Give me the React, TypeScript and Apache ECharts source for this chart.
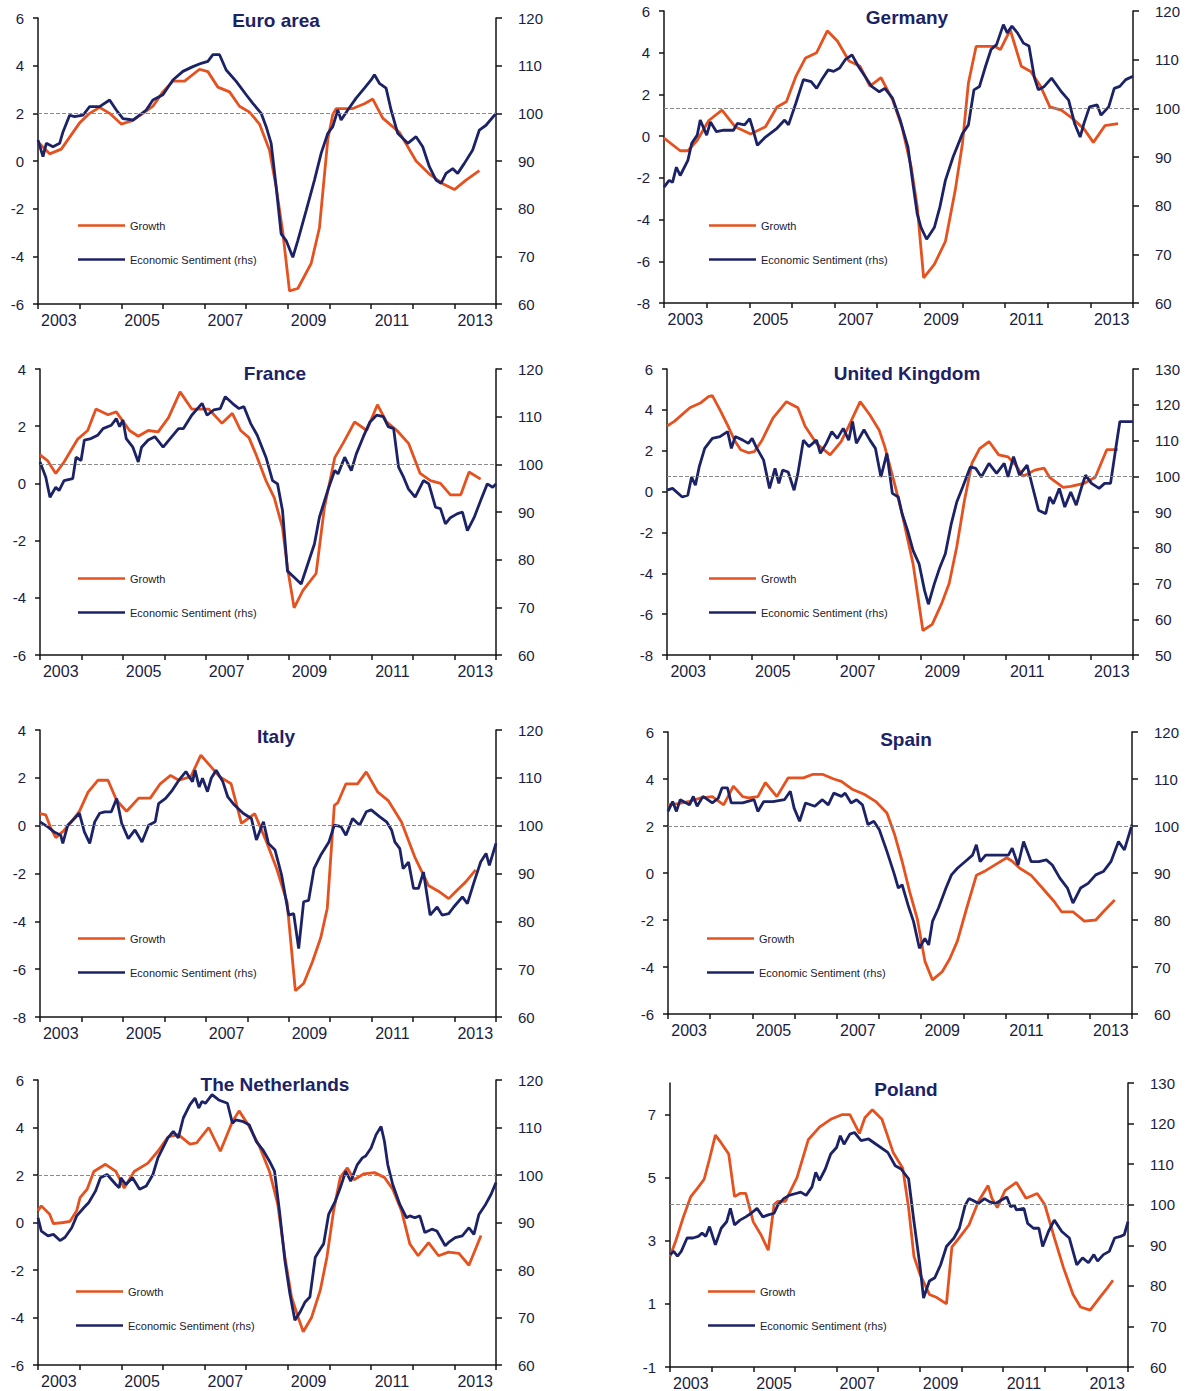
import React, { useEffect, useRef } from "react";
import * as echarts from "echarts";

const YEARS = ["2003", "2004", "2005", "2006", "2007", "2008", "2009", "2010", "2011", "2012", "2013"];

const euroGrowth = [
  [2003.0, 0.8], [2003.28, 0.3], [2003.56, 0.5], [2004.0, 1.6], [2004.24, 2.0], [2004.48, 2.25], [2004.72, 2.0],
  [2005.0, 1.55], [2005.28, 1.7], [2005.52, 2.0], [2005.76, 2.3], [2006.0, 2.9], [2006.24, 3.35], [2006.52, 3.35],
  [2006.88, 3.85], [2007.08, 3.75], [2007.32, 3.1], [2007.6, 2.9], [2007.84, 2.3], [2008.08, 2.05], [2008.32, 1.55],
  [2008.56, 0.45], [2008.72, -1.1], [2008.88, -3.0], [2009.04, -5.45], [2009.24, -5.35], [2009.56, -4.3], [2009.76, -2.8],
  [2009.96, 0.9], [2010.08, 1.95], [2010.16, 2.2], [2010.56, 2.2], [2010.84, 2.4], [2011.04, 2.6], [2011.28, 1.8],
  [2011.68, 1.2], [2012.08, 0.0], [2012.4, -0.55], [2012.72, -0.95], [2013.0, -1.2], [2013.28, -0.8], [2013.6, -0.4],
];
const euroSentiment = [
  [2003.0, 94.4], [2003.12, 90.9], [2003.2, 93.7], [2003.36, 93.0], [2003.52, 93.7], [2003.6, 96.1], [2003.76, 99.6],
  [2003.88, 99.3], [2004.08, 99.6], [2004.24, 101.4], [2004.48, 101.4], [2004.72, 102.8], [2004.88, 100.7], [2005.04, 98.9],
  [2005.28, 98.6], [2005.6, 100.7], [2005.76, 102.8], [2006.0, 103.9], [2006.24, 107.0], [2006.48, 108.8], [2006.72, 109.8],
  [2006.92, 110.5], [2007.08, 110.9], [2007.2, 112.3], [2007.36, 112.3], [2007.52, 109.1], [2007.76, 106.7], [2008.0, 103.9],
  [2008.16, 102.1], [2008.36, 100.0], [2008.48, 97.2], [2008.6, 93.7], [2008.72, 84.6], [2008.84, 74.7], [2008.96, 73.3],
  [2009.12, 69.8], [2009.24, 73.3], [2009.44, 79.6], [2009.64, 86.0], [2009.8, 91.6], [2009.96, 95.8], [2010.08, 97.2],
  [2010.2, 100.7], [2010.28, 98.6], [2010.44, 100.7], [2010.64, 103.2], [2010.84, 105.3], [2011.0, 107.0], [2011.08, 108.1],
  [2011.2, 106.3], [2011.36, 105.3], [2011.48, 100.7], [2011.64, 95.8], [2011.88, 93.7], [2012.08, 95.1], [2012.24, 93.0],
  [2012.4, 88.8], [2012.56, 86.0], [2012.68, 85.3], [2012.8, 87.4], [2012.96, 88.4], [2013.08, 87.4], [2013.24, 89.5],
  [2013.44, 92.3], [2013.6, 96.5], [2013.76, 97.5], [2014.0, 100.0],
];

const germanyGrowth = [
  [2003.0, -0.1], [2003.38, -0.7], [2003.56, -0.7], [2003.78, -0.2], [2004.05, 0.75], [2004.36, 1.25], [2004.67, 0.45],
  [2005.03, 0.1], [2005.38, 0.45], [2005.65, 1.4], [2005.87, 1.65], [2006.09, 2.85], [2006.32, 3.75], [2006.58, 4.0],
  [2006.83, 5.05], [2007.07, 4.55], [2007.34, 3.6], [2007.6, 3.35], [2007.83, 2.4], [2008.09, 2.8], [2008.36, 1.75],
  [2008.58, 0.45], [2008.8, -1.5], [2008.94, -3.4], [2009.09, -6.8], [2009.34, -6.15], [2009.6, -5.05], [2009.83, -2.6],
  [2010.0, -0.35], [2010.14, 2.55], [2010.32, 4.3], [2010.76, 4.3], [2010.89, 4.15], [2011.12, 5.1], [2011.38, 3.35],
  [2011.6, 3.1], [2011.83, 2.4], [2012.05, 1.4], [2012.32, 1.25], [2012.58, 0.85], [2012.85, 0.35], [2013.07, -0.3],
  [2013.34, 0.5], [2013.65, 0.6],
];
const germanySentiment = [
  [2003.0, 83.8], [2003.12, 85.2], [2003.2, 84.8], [2003.29, 87.9], [2003.38, 86.2], [2003.56, 89.3], [2003.65, 92.8],
  [2003.78, 94.5], [2003.85, 97.6], [2004.0, 94.5], [2004.09, 97.2], [2004.23, 95.2], [2004.4, 95.5], [2004.63, 95.5],
  [2004.72, 96.9], [2004.89, 96.6], [2005.01, 97.9], [2005.07, 96.2], [2005.19, 92.4], [2005.38, 94.1], [2005.65, 95.9],
  [2005.83, 97.6], [2005.92, 96.6], [2006.09, 101.0], [2006.27, 105.9], [2006.45, 105.5], [2006.58, 104.1], [2006.72, 106.2],
  [2006.85, 107.9], [2006.98, 107.6], [2007.12, 108.3], [2007.25, 110.0], [2007.41, 111.0], [2007.56, 108.6], [2007.69, 106.9],
  [2007.87, 104.5], [2008.05, 103.4], [2008.18, 104.1], [2008.36, 102.1], [2008.54, 97.6], [2008.72, 92.1], [2008.85, 83.8],
  [2008.94, 78.3], [2009.03, 75.5], [2009.16, 73.1], [2009.34, 75.5], [2009.47, 79.7], [2009.6, 85.2], [2009.78, 90.0],
  [2010.0, 94.8], [2010.14, 96.6], [2010.27, 103.8], [2010.4, 104.5], [2010.54, 108.6], [2010.67, 112.1], [2010.8, 113.1],
  [2010.96, 117.2], [2011.05, 115.5], [2011.16, 116.9], [2011.29, 115.5], [2011.43, 113.4], [2011.56, 112.8], [2011.69, 106.2],
  [2011.78, 103.8], [2011.92, 104.5], [2012.09, 106.2], [2012.32, 103.4], [2012.49, 101.7], [2012.63, 96.9], [2012.76, 94.1],
  [2012.85, 96.9], [2012.98, 100.3], [2013.16, 100.7], [2013.25, 98.6], [2013.43, 100.3], [2013.56, 104.1], [2013.69, 104.5],
  [2013.83, 105.9], [2014.0, 106.6],
];

const franceGrowth = [
  [2003.0, 1.0], [2003.18, 0.8], [2003.38, 0.35], [2003.58, 0.75], [2003.91, 1.55], [2004.15, 1.85], [2004.35, 2.6],
  [2004.64, 2.4], [2004.84, 2.5], [2005.16, 1.85], [2005.37, 1.65], [2005.61, 1.85], [2005.85, 1.8], [2006.1, 2.3],
  [2006.38, 3.2], [2006.66, 2.6], [2007.07, 2.6], [2007.39, 2.1], [2007.64, 2.45], [2007.84, 1.85], [2008.04, 1.6],
  [2008.2, 1.05], [2008.45, 0.1], [2008.65, -0.5], [2008.85, -1.55], [2008.97, -2.95], [2009.13, -4.35], [2009.34, -3.75],
  [2009.66, -3.15], [2009.86, -0.85], [2010.11, 0.9], [2010.31, 1.4], [2010.59, 2.15], [2010.88, 1.85], [2011.14, 2.75],
  [2011.36, 2.15], [2011.61, 1.85], [2011.89, 1.4], [2012.17, 0.35], [2012.42, 0.1], [2012.66, 0.0], [2012.9, -0.4],
  [2013.15, -0.4], [2013.35, 0.4], [2013.63, 0.15],
];
const franceSentiment = [
  [2003.0, 100.5], [2003.14, 97.3], [2003.24, 93.1], [2003.38, 95.2], [2003.46, 94.5], [2003.58, 96.6], [2003.79, 97.0],
  [2003.87, 101.5], [2003.99, 100.8], [2004.07, 105.1], [2004.23, 105.4], [2004.39, 106.1], [2004.52, 107.5], [2004.72, 108.2],
  [2004.84, 109.6], [2004.92, 107.9], [2005.0, 109.3], [2005.08, 105.4], [2005.24, 103.6], [2005.37, 100.5], [2005.45, 103.6],
  [2005.61, 105.1], [2005.77, 105.8], [2005.97, 103.6], [2006.14, 105.4], [2006.34, 107.5], [2006.46, 107.5], [2006.66, 110.3],
  [2006.91, 112.8], [2007.03, 110.3], [2007.19, 111.4], [2007.35, 111.7], [2007.47, 114.2], [2007.64, 112.8], [2007.8, 111.7],
  [2007.92, 112.1], [2008.08, 108.6], [2008.24, 106.1], [2008.45, 101.5], [2008.61, 96.6], [2008.73, 95.9], [2008.85, 90.3],
  [2008.97, 77.6], [2009.13, 76.3], [2009.3, 74.9], [2009.46, 79.1], [2009.62, 83.3], [2009.74, 88.9], [2009.94, 94.5],
  [2010.11, 98.7], [2010.19, 98.0], [2010.35, 101.5], [2010.51, 98.7], [2010.63, 102.2], [2010.8, 105.8], [2010.96, 108.9],
  [2011.12, 110.3], [2011.28, 110.0], [2011.4, 107.9], [2011.53, 107.5], [2011.65, 99.4], [2011.77, 97.3], [2011.89, 94.8],
  [2012.05, 93.1], [2012.25, 96.6], [2012.38, 95.9], [2012.54, 91.0], [2012.66, 90.7], [2012.78, 87.5], [2012.9, 88.8],
  [2013.06, 89.6], [2013.19, 90.0], [2013.31, 86.1], [2013.47, 88.8], [2013.63, 92.4], [2013.79, 95.9], [2013.92, 95.2],
  [2014.0, 95.9],
];

const ukGrowth = [
  [2003.0, 3.2], [2003.18, 3.45], [2003.54, 4.1], [2003.8, 4.35], [2003.98, 4.65], [2004.07, 4.7], [2004.25, 4.0],
  [2004.43, 3.25], [2004.61, 2.45], [2004.74, 2.05], [2004.92, 1.9], [2005.06, 1.95], [2005.24, 2.5], [2005.5, 3.6],
  [2005.82, 4.4], [2006.09, 4.1], [2006.26, 3.2], [2006.53, 2.35], [2006.85, 1.8], [2007.11, 2.45], [2007.29, 3.2],
  [2007.56, 4.4], [2007.79, 3.75], [2008.01, 3.0], [2008.14, 2.2], [2008.37, 0.4], [2008.55, -1.1], [2008.81, -3.55],
  [2009.04, -6.8], [2009.26, -6.5], [2009.48, -5.5], [2009.66, -4.5], [2009.84, -2.7], [2010.02, -0.45], [2010.2, 1.4],
  [2010.38, 2.1], [2010.6, 2.45], [2010.83, 1.8], [2011.05, 1.7], [2011.23, 1.3], [2011.41, 0.75], [2011.68, 1.05],
  [2011.9, 1.15], [2012.03, 0.7], [2012.35, 0.2], [2012.53, 0.25], [2012.84, 0.4], [2013.11, 0.7], [2013.38, 2.05],
  [2013.64, 2.05],
];
const ukSentiment = [
  [2003.0, 96.1], [2003.13, 96.6], [2003.36, 94.2], [2003.49, 94.7], [2003.58, 99.8], [2003.67, 97.5], [2003.76, 102.6],
  [2003.89, 107.8], [2003.98, 109.2], [2004.07, 110.6], [2004.25, 111.1], [2004.43, 112.5], [2004.52, 107.8], [2004.61, 111.1],
  [2004.79, 110.1], [2004.92, 109.2], [2005.01, 110.6], [2005.1, 108.3], [2005.28, 104.5], [2005.42, 96.6], [2005.55, 102.2],
  [2005.64, 98.0], [2005.73, 101.7], [2005.86, 101.2], [2006.0, 96.1], [2006.09, 100.8], [2006.22, 110.1], [2006.35, 108.3],
  [2006.53, 110.1], [2006.62, 106.4], [2006.76, 109.2], [2006.89, 112.5], [2007.02, 110.6], [2007.16, 113.4], [2007.29, 110.1],
  [2007.38, 115.3], [2007.47, 109.2], [2007.65, 113.0], [2007.79, 110.1], [2007.92, 107.8], [2008.05, 99.8], [2008.19, 106.4],
  [2008.32, 95.2], [2008.46, 94.2], [2008.55, 89.5], [2008.68, 84.8], [2008.81, 79.2], [2008.95, 75.5], [2009.08, 68.0],
  [2009.17, 64.2], [2009.31, 69.9], [2009.44, 74.5], [2009.57, 78.3], [2009.71, 86.7], [2009.84, 92.8], [2009.98, 97.0],
  [2010.16, 102.6], [2010.29, 102.2], [2010.42, 99.8], [2010.6, 103.6], [2010.78, 100.8], [2010.96, 103.6], [2011.05, 99.8],
  [2011.18, 105.5], [2011.32, 100.3], [2011.5, 103.1], [2011.63, 97.0], [2011.77, 90.5], [2011.94, 89.5], [2012.03, 94.2],
  [2012.12, 92.3], [2012.26, 96.6], [2012.39, 91.4], [2012.53, 95.6], [2012.66, 91.9], [2012.8, 97.5], [2012.88, 100.3],
  [2013.02, 98.0], [2013.2, 96.6], [2013.33, 98.0], [2013.47, 98.0], [2013.6, 108.3], [2013.69, 115.3], [2014.0, 115.3],
];

const italyGrowth = [
  [2003.0, 0.5], [2003.14, 0.45], [2003.26, -0.1], [2003.38, -0.5], [2003.55, -0.25], [2003.75, 0.15], [2003.95, 0.6],
  [2004.16, 1.4], [2004.4, 1.9], [2004.64, 1.9], [2004.85, 1.05], [2005.09, 0.6], [2005.38, 1.15], [2005.66, 1.15],
  [2005.9, 1.75], [2006.15, 2.1], [2006.35, 1.9], [2006.64, 2.05], [2006.88, 2.95], [2007.08, 2.55], [2007.33, 2.05],
  [2007.61, 1.75], [2007.86, 0.1], [2008.02, 0.3], [2008.18, 0.5], [2008.47, -0.7], [2008.71, -1.8], [2008.96, -3.2],
  [2009.16, -6.9], [2009.36, -6.6], [2009.57, -5.7], [2009.77, -4.7], [2009.93, -3.45], [2010.1, 0.85], [2010.18, 0.95],
  [2010.38, 1.75], [2010.66, 1.75], [2010.87, 2.25], [2011.15, 1.4], [2011.4, 1.05], [2011.72, 0.15], [2012.05, -1.35],
  [2012.37, -2.5], [2012.62, -2.75], [2012.86, -3.05], [2013.06, -2.7], [2013.27, -2.35], [2013.51, -1.85],
];
const italySentiment = [
  [2003.0, 100.8], [2003.18, 99.8], [2003.34, 98.7], [2003.5, 98.0], [2003.55, 96.3], [2003.67, 100.1], [2003.83, 101.5],
  [2003.95, 102.6], [2004.07, 98.7], [2004.2, 96.3], [2004.32, 100.8], [2004.44, 102.6], [2004.56, 102.9], [2004.72, 102.9],
  [2004.85, 105.7], [2004.97, 100.5], [2005.13, 97.3], [2005.29, 99.1], [2005.46, 96.6], [2005.62, 100.1], [2005.78, 100.8],
  [2005.86, 104.6], [2006.03, 105.7], [2006.19, 107.4], [2006.35, 109.5], [2006.52, 111.3], [2006.6, 110.2], [2006.68, 109.2],
  [2006.74, 111.6], [2006.84, 108.1], [2006.92, 109.9], [2007.04, 107.1], [2007.13, 109.9], [2007.25, 111.6], [2007.41, 109.2],
  [2007.53, 106.0], [2007.69, 104.3], [2007.9, 102.6], [2008.1, 101.5], [2008.22, 97.0], [2008.39, 100.8], [2008.51, 96.3],
  [2008.67, 94.9], [2008.83, 89.6], [2009.0, 81.3], [2009.12, 81.6], [2009.24, 74.3], [2009.36, 84.1], [2009.48, 84.4],
  [2009.61, 91.0], [2009.77, 93.8], [2009.97, 96.6], [2010.1, 100.1], [2010.26, 99.8], [2010.38, 98.0], [2010.54, 101.5],
  [2010.71, 100.1], [2010.87, 102.9], [2010.99, 103.3], [2011.19, 101.9], [2011.36, 100.8], [2011.48, 99.1], [2011.56, 96.6],
  [2011.68, 95.2], [2011.76, 91.0], [2011.89, 92.4], [2012.01, 86.9], [2012.13, 86.9], [2012.25, 90.3], [2012.41, 81.3],
  [2012.58, 83.0], [2012.7, 81.3], [2012.86, 81.6], [2012.98, 83.0], [2013.19, 85.1], [2013.31, 83.7], [2013.47, 88.2],
  [2013.63, 92.4], [2013.76, 94.2], [2013.84, 91.7], [2014.0, 96.3],
];

const spainGrowth = [
  [2003.0, 2.9], [2003.24, 2.95], [2003.51, 3.05], [2003.78, 3.2], [2004.05, 3.25], [2004.32, 2.9], [2004.55, 3.7],
  [2004.77, 3.25], [2004.91, 3.2], [2005.13, 3.25], [2005.31, 3.85], [2005.58, 3.25], [2005.85, 4.05], [2006.21, 4.05],
  [2006.44, 4.2], [2006.66, 4.2], [2006.93, 4.0], [2007.11, 3.9], [2007.38, 3.55], [2007.65, 3.35], [2007.92, 3.05],
  [2008.19, 2.55], [2008.37, 1.65], [2008.55, 0.5], [2008.73, -0.8], [2008.91, -1.95], [2009.09, -3.75], [2009.27, -4.55],
  [2009.5, -4.2], [2009.68, -3.65], [2009.86, -2.9], [2010.08, -1.5], [2010.31, -0.1], [2010.53, 0.1], [2010.8, 0.4],
  [2011.03, 0.65], [2011.16, 0.5], [2011.34, 0.2], [2011.61, -0.1], [2011.88, -0.65], [2012.15, -1.2], [2012.33, -1.65],
  [2012.6, -1.65], [2012.87, -2.05], [2013.14, -2.0], [2013.32, -1.65], [2013.59, -1.15],
];
const spainSentiment = [
  [2003.0, 103.1], [2003.11, 105.2], [2003.2, 103.1], [2003.29, 105.6], [2003.51, 104.5], [2003.6, 106.3], [2003.69, 104.2],
  [2003.83, 106.3], [2004.05, 104.9], [2004.19, 105.9], [2004.28, 108.1], [2004.41, 108.1], [2004.5, 104.9], [2004.77, 104.9],
  [2005.04, 105.6], [2005.13, 103.1], [2005.27, 105.2], [2005.49, 105.2], [2005.76, 105.6], [2005.9, 107.4], [2005.99, 103.8],
  [2006.12, 101.0], [2006.26, 104.9], [2006.48, 104.2], [2006.66, 105.6], [2006.8, 104.5], [2006.93, 107.0], [2007.11, 106.3],
  [2007.2, 107.0], [2007.34, 104.9], [2007.47, 105.6], [2007.61, 104.5], [2007.74, 100.3], [2007.88, 101.0], [2008.01, 99.2],
  [2008.19, 94.6], [2008.37, 89.6], [2008.46, 86.8], [2008.55, 87.5], [2008.69, 83.2], [2008.82, 79.7], [2008.96, 74.0],
  [2009.09, 76.1], [2009.18, 74.7], [2009.27, 79.7], [2009.41, 82.5], [2009.59, 86.8], [2009.72, 89.6], [2009.86, 91.0],
  [2010.04, 92.4], [2010.22, 93.8], [2010.31, 96.0], [2010.4, 92.4], [2010.53, 93.8], [2010.71, 93.8], [2010.89, 93.8],
  [2011.07, 93.8], [2011.16, 95.3], [2011.3, 91.7], [2011.43, 96.7], [2011.61, 92.4], [2011.79, 92.4], [2011.97, 92.8],
  [2012.11, 91.7], [2012.29, 88.9], [2012.47, 86.8], [2012.6, 83.6], [2012.78, 86.8], [2012.96, 87.8], [2013.14, 89.6],
  [2013.32, 90.3], [2013.5, 92.4], [2013.68, 96.7], [2013.82, 94.9], [2014.0, 100.3],
];

const netherlandsGrowth = [
  [2003.0, 0.5], [2003.08, 0.7], [2003.28, 0.35], [2003.37, -0.05], [2003.61, 0.0], [2003.77, 0.05], [2003.93, 0.5],
  [2004.01, 1.05], [2004.18, 1.4], [2004.34, 2.15], [2004.62, 2.45], [2004.87, 2.15], [2005.07, 1.45], [2005.31, 2.15],
  [2005.64, 2.5], [2005.88, 3.0], [2006.12, 3.6], [2006.37, 3.7], [2006.65, 3.3], [2006.81, 3.35], [2007.1, 4.0],
  [2007.38, 3.0], [2007.67, 4.25], [2007.83, 4.7], [2008.07, 4.05], [2008.32, 3.2], [2008.56, 2.15], [2008.76, 0.75],
  [2008.93, -1.45], [2009.09, -3.15], [2009.25, -4.0], [2009.37, -4.6], [2009.57, -4.0], [2009.78, -2.85], [2009.94, -1.45],
  [2010.1, 0.5], [2010.26, 1.9], [2010.43, 2.3], [2010.59, 1.8], [2010.83, 2.05], [2011.08, 2.1], [2011.32, 1.9],
  [2011.52, 1.4], [2011.73, 0.5], [2011.93, -0.9], [2012.13, -1.4], [2012.38, -0.85], [2012.62, -1.4], [2012.86, -1.25],
  [2013.11, -1.3], [2013.35, -1.8], [2013.64, -0.55],
];
const netherlandsSentiment = [
  [2003.0, 91.0], [2003.08, 88.2], [2003.24, 87.2], [2003.37, 87.5], [2003.53, 86.2], [2003.65, 86.9], [2003.81, 88.9],
  [2003.93, 91.4], [2004.1, 93.1], [2004.22, 94.2], [2004.38, 96.6], [2004.5, 99.4], [2004.66, 100.1], [2004.87, 98.0],
  [2004.95, 97.3], [2004.99, 99.4], [2005.11, 98.0], [2005.27, 99.4], [2005.44, 97.0], [2005.6, 97.7], [2005.76, 100.1],
  [2005.88, 103.6], [2006.12, 107.8], [2006.25, 109.2], [2006.37, 107.8], [2006.49, 112.0], [2006.65, 114.8], [2006.77, 116.2],
  [2006.86, 114.1], [2006.94, 115.5], [2007.02, 115.1], [2007.18, 116.9], [2007.34, 115.8], [2007.55, 115.1], [2007.67, 110.9],
  [2007.75, 111.6], [2007.91, 111.3], [2008.07, 110.6], [2008.24, 107.1], [2008.4, 105.3], [2008.56, 102.9], [2008.68, 100.8],
  [2008.8, 92.4], [2008.93, 82.0], [2009.05, 75.0], [2009.17, 69.4], [2009.29, 71.1], [2009.41, 73.2], [2009.53, 74.3],
  [2009.66, 82.7], [2009.78, 84.4], [2009.86, 85.5], [2009.98, 91.7], [2010.14, 94.5], [2010.26, 97.3], [2010.39, 100.8],
  [2010.51, 98.7], [2010.67, 102.2], [2010.79, 103.6], [2010.87, 104.0], [2011.0, 105.7], [2011.12, 108.5], [2011.24, 110.2],
  [2011.32, 107.1], [2011.4, 102.2], [2011.52, 98.0], [2011.69, 93.8], [2011.85, 91.0], [2011.93, 91.4], [2012.05, 91.0],
  [2012.17, 91.4], [2012.29, 87.9], [2012.46, 88.6], [2012.58, 88.2], [2012.78, 85.1], [2012.86, 85.8], [2013.02, 86.8],
  [2013.19, 87.2], [2013.35, 88.9], [2013.47, 87.5], [2013.59, 91.7], [2013.75, 93.8], [2013.88, 95.9], [2014.0, 98.4],
];

const polandGrowth = [
  [2003.0, 2.5], [2003.14, 3.0], [2003.32, 3.75], [2003.5, 4.4], [2003.68, 4.7], [2003.82, 4.95], [2003.95, 5.6],
  [2004.09, 6.35], [2004.23, 6.1], [2004.41, 5.75], [2004.55, 4.4], [2004.68, 4.5], [2004.82, 4.5], [2005.0, 3.6],
  [2005.18, 3.2], [2005.36, 2.7], [2005.5, 4.15], [2005.59, 4.25], [2005.77, 4.25], [2006.05, 5.0], [2006.32, 6.2],
  [2006.59, 6.6], [2006.86, 6.85], [2007.14, 7.0], [2007.32, 7.0], [2007.55, 6.4], [2007.68, 6.9], [2007.86, 7.15],
  [2008.09, 6.85], [2008.36, 5.8], [2008.59, 5.3], [2008.73, 4.05], [2008.86, 2.5], [2009.0, 1.95], [2009.23, 1.3],
  [2009.41, 1.2], [2009.64, 1.0], [2009.77, 2.8], [2009.95, 3.1], [2010.18, 3.5], [2010.41, 4.25], [2010.64, 4.75],
  [2010.73, 4.35], [2010.86, 4.05], [2011.05, 4.6], [2011.32, 4.85], [2011.55, 4.35], [2011.82, 4.5], [2012.0, 4.15],
  [2012.23, 3.1], [2012.45, 2.15], [2012.68, 1.3], [2012.86, 0.9], [2013.09, 0.8], [2013.32, 1.2], [2013.5, 1.5],
  [2013.64, 1.75],
];
const polandSentiment = [
  [2003.0, 87.7], [2003.09, 88.5], [2003.18, 87.3], [2003.27, 88.5], [2003.41, 91.8], [2003.55, 91.8], [2003.68, 92.2],
  [2003.77, 93.0], [2003.86, 92.2], [2003.95, 94.6], [2004.09, 90.1], [2004.23, 94.2], [2004.36, 95.8], [2004.45, 99.1],
  [2004.55, 95.0], [2004.68, 96.2], [2004.82, 97.0], [2004.95, 97.9], [2005.09, 99.1], [2005.23, 97.0], [2005.36, 97.5],
  [2005.5, 97.9], [2005.59, 99.9], [2005.73, 101.5], [2005.86, 102.3], [2006.0, 102.7], [2006.14, 103.1], [2006.27, 102.3],
  [2006.41, 104.4], [2006.5, 108.0], [2006.59, 106.0], [2006.73, 108.8], [2006.86, 112.5], [2007.0, 114.1], [2007.09, 117.0],
  [2007.18, 114.9], [2007.32, 117.4], [2007.43, 117.8], [2007.59, 115.8], [2007.77, 116.2], [2007.95, 114.9], [2008.23, 112.9],
  [2008.41, 109.6], [2008.55, 108.8], [2008.73, 106.4], [2008.86, 95.8], [2009.0, 85.2], [2009.09, 77.0], [2009.23, 81.2],
  [2009.36, 82.0], [2009.5, 85.2], [2009.64, 89.7], [2009.82, 91.8], [2009.95, 94.2], [2010.09, 99.9], [2010.18, 101.5],
  [2010.27, 101.1], [2010.41, 100.3], [2010.55, 101.5], [2010.68, 100.7], [2010.82, 100.3], [2010.95, 101.1], [2011.09, 101.9],
  [2011.18, 99.5], [2011.27, 99.9], [2011.32, 98.7], [2011.5, 99.1], [2011.59, 95.4], [2011.73, 94.2], [2011.86, 94.2],
  [2011.95, 89.7], [2012.09, 93.4], [2012.23, 96.2], [2012.41, 93.4], [2012.59, 91.8], [2012.77, 85.2], [2012.91, 86.9],
  [2013.05, 85.7], [2013.18, 87.7], [2013.27, 86.1], [2013.41, 87.7], [2013.55, 88.5], [2013.68, 91.8], [2013.82, 92.2],
  [2013.91, 92.6], [2014.0, 95.8],
];

const ORANGE = "#e5521f";
const NAVY = "#1c2266";
const AXIS = "#141414";
const LABEL = "#1a1d40";
const FONT = "'Liberation Sans', Arial, Helvetica, sans-serif";

const PANELS = [
  { title: "Euro area", growth: euroGrowth, sentiment: euroSentiment, box: [38, 18, 458, 286], titleX: 276, titleY: 20,
    lMin: -6, lMax: 6, lInt: 2, rMin: 60, rMax: 120, legend: [78, 220] },
  { title: "Germany", growth: germanyGrowth, sentiment: germanySentiment, box: [664, 11, 469, 292], titleX: 907, titleY: 17,
    lMin: -8, lMax: 6, lInt: 2, rMin: 60, rMax: 120, legend: [709, 220] },
  { title: "France", growth: franceGrowth, sentiment: franceSentiment, box: [40, 369, 456, 286], titleX: 275, titleY: 373,
    lMin: -6, lMax: 4, lInt: 2, rMin: 60, rMax: 120, legend: [78, 573] },
  { title: "United Kingdom", growth: ukGrowth, sentiment: ukSentiment, box: [667, 369, 466, 286], titleX: 907, titleY: 373,
    lMin: -8, lMax: 6, lInt: 2, rMin: 50, rMax: 130, legend: [709, 573] },
  { title: "Italy", growth: italyGrowth, sentiment: italySentiment, box: [40, 730, 456, 287], titleX: 276, titleY: 736,
    lMin: -8, lMax: 4, lInt: 2, rMin: 60, rMax: 120, legend: [78, 933] },
  { title: "Spain", growth: spainGrowth, sentiment: spainSentiment, box: [668, 732, 464, 282], titleX: 906, titleY: 739,
    lMin: -6, lMax: 6, lInt: 2, rMin: 60, rMax: 120, legend: [707, 933] },
  { title: "The Netherlands", growth: netherlandsGrowth, sentiment: netherlandsSentiment, box: [38, 1080, 458, 285], titleX: 275, titleY: 1084,
    lMin: -6, lMax: 6, lInt: 2, rMin: 60, rMax: 120, legend: [76, 1286] },
  { title: "Poland", growth: polandGrowth, sentiment: polandSentiment, box: [670, 1083, 458, 284], titleX: 906, titleY: 1089,
    lMin: -1, lMax: 8, lTicks: [-1, 1, 3, 5, 7], rMin: 60, rMax: 130, legend: [708, 1286] },
];

function buildOption() {
  const grid: any[] = [];
  const xAxis: any[] = [];
  const yAxis: any[] = [];
  const series: any[] = [];
  const legend: any[] = [];
  const graphic: any[] = [];
  const axisLine = { show: true, lineStyle: { color: AXIS, width: 1.5 } };
  const labelStyle = { color: LABEL, fontFamily: FONT, fontSize: 15 };

  PANELS.forEach((p: any, i: number) => {
    grid.push({ left: p.box[0], top: p.box[1], width: p.box[2], height: p.box[3], containLabel: false });
    xAxis.push({ type: "value", gridIndex: i, min: 2003, max: 2014, show: false });
    xAxis.push({
      type: "category", gridIndex: i, data: YEARS, boundaryGap: true, position: "bottom",
      axisLine,
      axisTick: { show: true, interval: 0, length: 5, lineStyle: { color: AXIS, width: 1.5 } },
      axisLabel: { interval: 1, margin: 8, ...labelStyle, fontSize: 16 },
      splitLine: { show: false },
    });
    const left: any = {
      type: "value", gridIndex: i, position: "left", min: p.lMin, max: p.lMax,
      axisLine,
      axisTick: { show: true, length: 5, lineStyle: { color: AXIS, width: 1.5 } },
      axisLabel: { margin: 14, ...labelStyle },
      splitLine: { show: false },
    };
    if (p.lTicks) {
      left.axisLabel.customValues = p.lTicks;
      left.axisTick.customValues = p.lTicks;
    } else {
      left.interval = p.lInt;
    }
    yAxis.push(left);
    yAxis.push({
      type: "value", gridIndex: i, position: "right", min: p.rMin, max: p.rMax, interval: 10,
      axisLine,
      axisTick: { show: true, length: 6, lineStyle: { color: AXIS, width: 1.5 } },
      axisLabel: { margin: 22, ...labelStyle },
      splitLine: { show: false },
    });
    series.push({
      name: "Growth", type: "line", xAxisIndex: 2 * i, yAxisIndex: 2 * i, data: p.growth,
      symbol: "none", lineStyle: { color: ORANGE, width: 2.8 }, itemStyle: { color: ORANGE }, z: 3,
    });
    series.push({
      name: "Economic Sentiment (rhs)", type: "line", xAxisIndex: 2 * i, yAxisIndex: 2 * i + 1, data: p.sentiment,
      symbol: "none", lineStyle: { color: NAVY, width: 2.8 }, itemStyle: { color: NAVY }, z: 4,
      markLine: {
        silent: true, symbol: "none", label: { show: false },
        lineStyle: { color: "#8a8a8a", width: 1, type: [4, 2] },
        data: [{ yAxis: 100 }],
      },
    });
    legend.push({
      orient: "vertical", left: p.legend[0], top: p.legend[1], padding: 0, itemWidth: 47, itemHeight: 2.5, itemGap: 23,
      icon: "rect", selectedMode: false, data: ["Growth", "Economic Sentiment (rhs)"],
      textStyle: { fontSize: 11, color: "#1a1a30", fontFamily: FONT },
    });
    graphic.push({
      type: "text", x: p.titleX, y: p.titleY,
      style: { text: p.title, fontSize: 19, fontWeight: "bold", fontFamily: FONT, fill: NAVY, align: "center", verticalAlign: "middle" },
    });
  });

  return { animation: false, backgroundColor: "#ffffff", grid, xAxis, yAxis, series, legend, graphic };
}

export default function App() {
  const ref = useRef<HTMLDivElement>(null);
  useEffect(() => {
    if (!ref.current) return;
    const chart = echarts.init(ref.current, undefined, { renderer: "svg" });
    chart.setOption(buildOption() as any);
    return () => chart.dispose();
  }, []);
  return (
    <div
      ref={ref}
      style={{ position: "absolute", left: 0, top: 0, width: 1194, height: 1391, background: "#fff" }}
    />
  );
}
